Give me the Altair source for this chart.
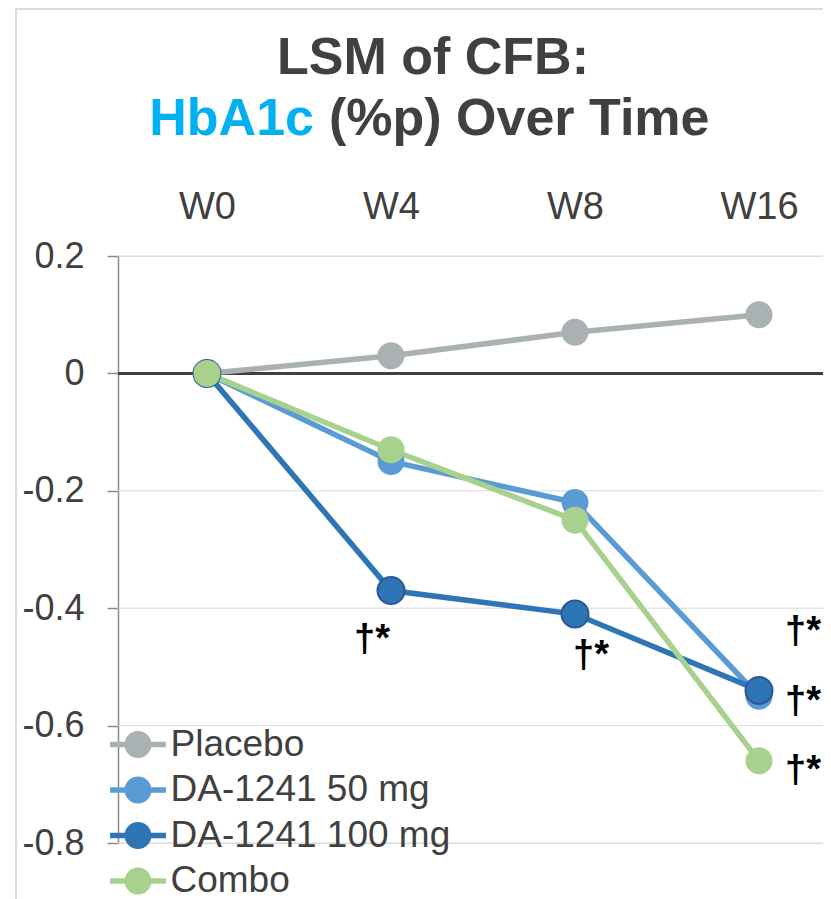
import altair as alt
import pandas as pd

# ---- data ----
weeks = ["W0", "W4", "W8", "W16"]
series = ["Placebo", "DA-1241 50 mg", "DA-1241 100 mg", "Combo"]
placebo = [0.0, 0.03, 0.07, 0.10]
da50 = [0.0, -0.15, -0.22, -0.55]
da100 = [0.0, -0.37, -0.41, -0.54]
combo = [0.0, -0.13, -0.25, -0.66]
colors = ["#AAB1B3", "#5B9BD5", "#2E75B6", "#A9D18E"]

ann_weeks = ["W4", "W8", "W16", "W16", "W16"]
ann_values = [-0.455, -0.482, -0.441, -0.56, -0.677]
ann_label = "†*"
y_ticks = [0.2, 0, -0.2, -0.4, -0.6, -0.8]

title_line1 = "LSM of CFB:"
title_hl = "HbA1c"
title_rest = "(%p) Over Time"

FONT = "Liberation Sans"
TXT = "#404040"

rows = []
for s, vals in zip(series, [placebo, da50, da100, combo]):
    for i, (w, v) in enumerate(zip(weeks, vals)):
        rows.append({"series": s, "week": w, "idx": i, "value": v})
df = pd.DataFrame(rows)
df_ann = pd.DataFrame({"week": ann_weeks, "value": ann_values, "label": [ann_label] * len(ann_weeks)})
df_grid = pd.DataFrame({"value": [v for v in y_ticks if v != 0]})

xscale = alt.Scale(type="point", domain=weeks, range=[89, 641], padding=0)
yscale = alt.Scale(domain=[-0.8, 0.2], nice=False, zero=False)

X = alt.X("week:N", scale=xscale, sort=weeks,
          axis=alt.Axis(orient="top", title=None, domain=False, ticks=False, tickSize=0,
                        labelFontSize=38, labelColor=TXT, labelFont=FONT, labelPadding=30,
                        grid=False, labelAngle=0))
Y = alt.Y("value:Q", scale=yscale,
          axis=alt.Axis(values=y_ticks, title=None, grid=False,
                        domainColor="#8C8C8C", domainWidth=1.5, tickColor="#8C8C8C", tickWidth=1.5,
                        tickSize=11, labelFontSize=36, labelColor=TXT, labelFont=FONT,
                        labelPadding=23,
                        labelExpr="abs(datum.value) < 1e-9 ? '0' : (datum.value < 0 ? '-' : '') + format(abs(datum.value), '.1f')"))

LEG_PATH = "M-2.07,-0.2L2.07,-0.2L2.07,0.2L-2.07,0.2Z M-1,0A1,1,0,1,1,1,0A1,1,0,1,1,-1,0Z"

color_leg = alt.Color("series:N", scale=alt.Scale(domain=series, range=colors),
                      legend=alt.Legend(title=None, orient="none", legendX=1.5, legendY=470,
                                        symbolType=LEG_PATH, symbolSize=729, symbolStrokeWidth=0,
                                        symbolOpacity=1, labelFontSize=37, labelColor=TXT,
                                        labelFont=FONT, labelOffset=14, labelLimit=500,
                                        rowPadding=7.5, padding=0))
color_noleg = alt.Color("series:N", scale=alt.Scale(domain=series, range=colors), legend=None)

grid = alt.Chart(df_grid).mark_rule(color="#D9D9D9", strokeWidth=1).encode(y=Y)
zero = alt.Chart(pd.DataFrame({"value": [0.0]})).mark_rule(color=TXT, strokeWidth=3).encode(y=Y)

lines = alt.Chart(df).mark_line(strokeWidth=5.5).encode(
    x=X, y=Y, color=color_noleg, order="idx:Q")

is100 = alt.datum.series == "DA-1241 100 mg"
points = alt.Chart(df).mark_circle(size=729, opacity=1).encode(
    x=X, y=Y, color=color_leg,
    stroke=alt.condition(is100, alt.value("#2F5597"), alt.value("#FFFFFF")),
    strokeWidth=alt.condition(is100, alt.value(2), alt.value(0)))

ann_layers = []
for wk, dx in [("W4", -19), ("W8", 16), ("W16", 44)]:
    ann_layers.append(
        alt.Chart(df_ann).transform_filter(alt.datum.week == wk)
        .mark_text(fontSize=38, fontWeight="bold", color="black", font=FONT, dx=dx, baseline="middle")
        .encode(x=X, y=Y, text="label:N"))

def title_text(txt, x, y, color, align):
    return alt.Chart(pd.DataFrame({"t": [txt]})).mark_text(
        align=align, baseline="alphabetic", font=FONT, fontSize=52, fontWeight="bold", color=color
    ).encode(x=alt.value(x), y=alt.value(y), text="t:N")

t1 = title_text(title_line1, 315, -182, TXT, "center")
t2 = title_text(title_hl, 196, -121, "#00B0F0", "right")
t3 = title_text(title_rest, 211, -121, TXT, "left")

frame_l = alt.Chart(pd.DataFrame({"a": [0]})).mark_rule(color="#D0D0D0", strokeWidth=1.5).encode(
    x=alt.value(-102), y=alt.value(-248), y2=alt.value(645))
frame_t = alt.Chart(pd.DataFrame({"a": [0]})).mark_rule(color="#D0D0D0", strokeWidth=1.5).encode(
    x=alt.value(-102), x2=alt.value(710), y=alt.value(-247))

chart = alt.layer(frame_l, frame_t, grid, zero, lines, points, *ann_layers, t1, t2, t3).resolve_legend(
    color="independent"
).properties(
    width=705, height=587,
    autosize=alt.AutoSizeParams(type="none"),
    padding={"left": 110, "top": 248, "right": 0, "bottom": 56},
).configure_view(stroke=None).configure(font=FONT)

chart.save("out.html", embed_options={"renderer": "svg", "actions": False})
